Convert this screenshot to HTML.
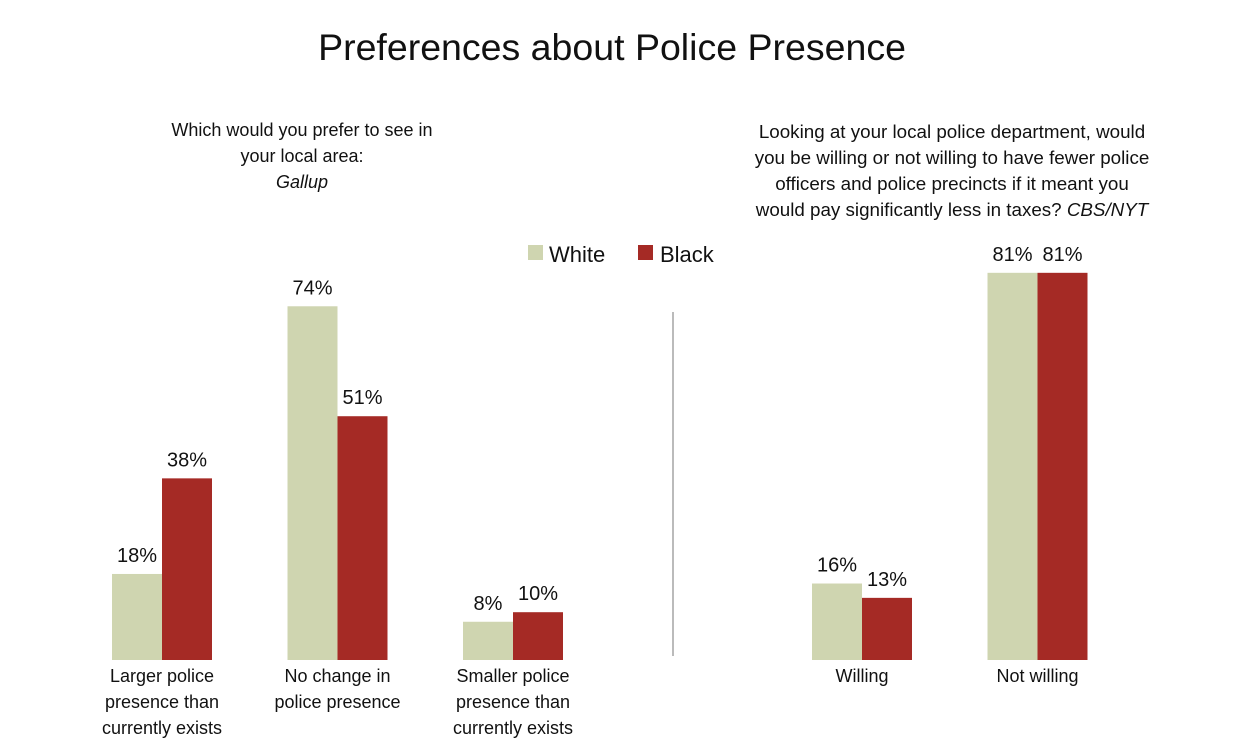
<!DOCTYPE html>
<html><head><meta charset="utf-8"><style>
body{margin:0;background:#fff;font-family:"Liberation Sans",sans-serif;}
svg text{font-family:"Liberation Sans",sans-serif;fill:#111;}
</style></head><body>
<svg width="1234" height="750" xmlns="http://www.w3.org/2000/svg">
<text x="612" y="60" font-size="37.5" text-anchor="middle">Preferences about Police Presence</text>
<g font-size="18" text-anchor="middle">
<text x="302" y="136">Which would you prefer to see in</text>
<text x="302" y="162">your local area:</text>
<text x="302" y="188" font-style="italic">Gallup</text>
</g>
<g font-size="18.8" text-anchor="middle">
<text x="952" y="138">Looking at your local police department, would</text>
<text x="952" y="164">you be willing or not willing to have fewer police</text>
<text x="952" y="190">officers and police precincts if it meant you</text>
<text x="952" y="216">would pay significantly less in taxes?  <tspan font-style="italic">CBS/NYT</tspan></text>
</g>
<g>
<rect x="528" y="245" width="15" height="15" fill="#cfd5b0"/>
<text x="549" y="262" font-size="22">White</text>
<rect x="638" y="245" width="15" height="15" fill="#a52a25"/>
<text x="660" y="262" font-size="22">Black</text>
</g>
<line x1="673" y1="312" x2="673" y2="656" stroke="#777" stroke-width="1"/>
<g id="bars"></g>
</svg>
<script>
const leftCategories=[["Larger police","presence than","currently exists"],["No change in","police presence"],["Smaller police","presence than","currently exists"]];
const leftWhite=[18,74,8];
const leftBlack=[38,51,10];
const rightCategories=[["Willing"],["Not willing"]];
const rightWhite=[16,81];
const rightBlack=[13,81];
const NS="http://www.w3.org/2000/svg";
const g=document.getElementById('bars');
const base=660, scale=4.78;
function y(v){return base-v*scale;}
function mk(tag,attrs){const e=document.createElementNS(NS,tag);for(const k in attrs)e.setAttribute(k,attrs[k]);g.appendChild(e);return e;}
function draw(cats,w,b,x0,step,prefix){
 cats.forEach((c,i)=>{
  const gx=x0+i*step;
  [[w[i],'#cfd5b0',gx,'white'],[b[i],'#a52a25',gx+50,'black']].forEach(([v,col,x,s])=>{
   const r=mk('rect',{x:x,y:y(v),width:50,height:v*scale,fill:col});
   
   
   const t=mk('text',{x:x+25,y:y(v)-12,'font-size':20,'text-anchor':'middle'});
   t.textContent=v+'%';
   
   
  });
  c.forEach((line,j)=>{
   const t=mk('text',{x:gx+50,y:682+j*26,'font-size':18,'text-anchor':'middle'});
   t.textContent=line;
   
   
  });
 });
}
draw(leftCategories,leftWhite,leftBlack,112,175.5,'left');
draw(rightCategories,rightWhite,rightBlack,812,175.5,'right');
</script>
</body></html>
